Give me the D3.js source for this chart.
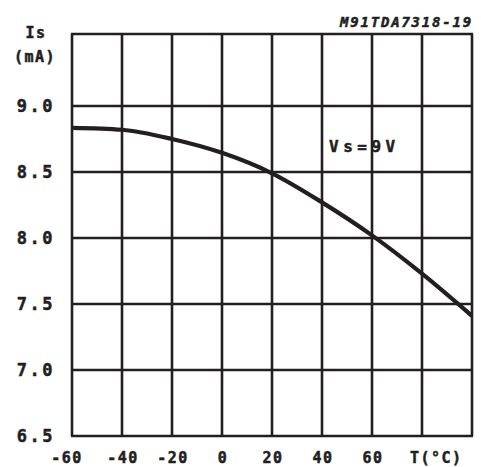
<!DOCTYPE html>
<html>
<head>
<meta charset="utf-8">
<script src="https://cdn.jsdelivr.net/npm/d3@7"></script>
<style>
  body { margin: 0; background: #fff; }
  text { font-family: "DejaVu Sans Mono", monospace; font-weight: bold; fill: #231f20; stroke: #231f20; stroke-width: 0.5px; }
</style>
</head>
<body>
<script>
var temps = [-60, -40, -20, 0, 20, 40, 60, 80, 100];
var current = [8.835, 8.82, 8.75, 8.645, 8.49, 8.27, 8.02, 7.73, 7.41];
var xTicks = [-60, -40, -20, 0, 20, 40, 60];
var yTicks = [6.5, 7.0, 7.5, 8.0, 8.5, 9.0];

var width = 481, height = 467;
var ink = "#231f20";

var svg = d3.select("body").append("svg")
  .attr("width", width)
  .attr("height", height);

var x = d3.scaleLinear().domain([-60, 100]).range([72, 472]);
var y = d3.scaleLinear().domain([6.5, 9.0]).range([436, 106]);
var yTop = 9.545;

// grid
var grid = svg.append("g").attr("stroke", ink).attr("stroke-width", 2.6);
grid.selectAll("line.v").data(d3.range(-60, 101, 20))
  .enter().append("line").attr("class", "v")
  .attr("x1", function(d) { return x(d); })
  .attr("x2", function(d) { return x(d); })
  .attr("y1", y(yTop)).attr("y2", y(6.5));
grid.selectAll("line.h").data(yTicks.concat([yTop]))
  .enter().append("line").attr("class", "h")
  .attr("x1", x(-60) - 1).attr("x2", x(100) + 1)
  .attr("y1", function(d) { return y(d); })
  .attr("y2", function(d) { return y(d); });

// curve
var line = d3.line()
  .x(function(d, i) { return x(temps[i]); })
  .y(function(d) { return y(d); })
  .curve(d3.curveMonotoneX);
svg.append("path")
  .datum(current)
  .attr("d", line)
  .attr("fill", "none")
  .attr("stroke", ink)
  .attr("stroke-width", 4.2);

// y tick labels
svg.selectAll("text.yt").data(yTicks)
  .enter().append("text").attr("class", "yt")
  .attr("x", 55)
  .attr("y", function(d) { return y(d) + 6; })
  .attr("text-anchor", "end")
  .style("font-size", "17px")
  .style("letter-spacing", "2.5px")
  .text(function(d) { return d3.format(".1f")(d); });

// x tick labels
svg.selectAll("text.xt").data(xTicks)
  .enter().append("text").attr("class", "xt")
  .attr("x", function(d) { return x(d) + (d === -60 ? -5 : 1); })
  .attr("y", 463)
  .attr("text-anchor", "middle")
  .style("font-size", "15px")
  .style("letter-spacing", "1.5px")
  .text(function(d) { return d; });

svg.append("text")
  .attr("x", 410).attr("y", 463)
  .style("font-size", "15px")
  .style("letter-spacing", "1.5px")
  .text("T(°C)");

// axis title
svg.append("text")
  .attr("x", 36).attr("y", 38)
  .attr("text-anchor", "middle")
  .style("font-size", "15px")
  .style("letter-spacing", "1.5px")
  .text("Is");
svg.append("text")
  .attr("x", 35).attr("y", 62)
  .attr("text-anchor", "middle")
  .style("font-size", "15px")
  .style("letter-spacing", "1.5px")
  .text("(mA)");

// condition label
svg.append("text")
  .attr("x", 329).attr("y", 152)
  .style("font-size", "16px")
  .style("letter-spacing", "4.5px")
  .text("Vs=9V");

// figure code
svg.append("text")
  .attr("x", 473).attr("y", 27)
  .attr("text-anchor", "end")
  .style("font-size", "14px")
  .style("font-style", "italic")
  .style("letter-spacing", "1.8px")
  .text("M91TDA7318-19");
</script>
</body>
</html>
